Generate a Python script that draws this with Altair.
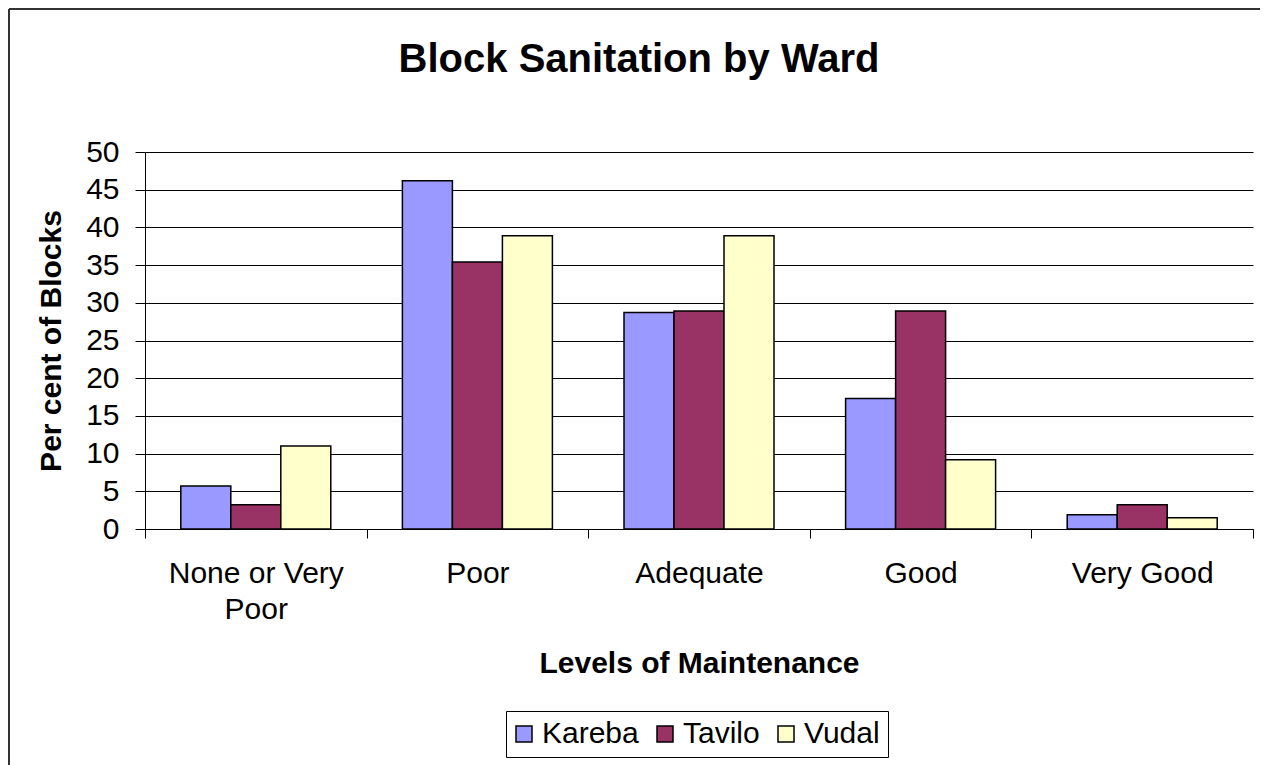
import altair as alt
import pandas as pd

categories = ["None or Very Poor", "Poor", "Adequate", "Good", "Very Good"]
wards = ["Kareba", "Tavilo", "Vudal"]
kareba = [5.7, 46.2, 28.7, 17.3, 1.9]
tavilo = [3.2, 35.4, 28.9, 28.9, 3.2]
vudal = [11.0, 38.9, 38.9, 9.2, 1.5]
colors = ["#9999FF", "#993366", "#FFFFCC"]
y_ticks = [0, 5, 10, 15, 20, 25, 30, 35, 40, 45, 50]

rows = []
for ward, vals in zip(wards, [kareba, tavilo, vudal]):
    for cat, v in zip(categories, vals):
        rows.append({"category": cat, "ward": ward, "value": v})
df = pd.DataFrame(rows)

FONT = "Liberation Sans"

bars = alt.Chart(df).mark_bar(stroke="black", strokeWidth=1.5).encode(
    x=alt.X(
        "category:N",
        sort=categories,
        scale=alt.Scale(paddingInner=0, paddingOuter=0),
        axis=alt.Axis(
            title="Levels of Maintenance",
            labelAngle=0,
            labelFontSize=30,
            labelFont=FONT,
            labelColor="black",
            labelLimit=400,
            labelLineHeight=36,
            labelPadding=20,
            labelExpr="datum.label == 'None or Very Poor' ? ['None or Very', 'Poor'] : datum.label",
            tickBand="extent",
            tickSize=9,
            tickColor="black",
            domainColor="black",
            grid=False,
            titleFont=FONT,
            titleFontSize=30,
            titleFontWeight="bold",
            titleColor="black",
            titleBaseline="alphabetic",
            titleY=143,
        ),
    ),
    xOffset=alt.XOffset(
        "ward:N", sort=wards, scale=alt.Scale(paddingInner=0, paddingOuter=0.716)
    ),
    y=alt.Y(
        "value:Q",
        scale=alt.Scale(domain=[0, 50], nice=False),
        axis=alt.Axis(
            title="Per cent of Blocks",
            values=y_ticks,
            labelFontSize=30,
            labelFont=FONT,
            labelColor="black",
            labelPadding=16,
            tickSize=10,
            tickColor="black",
            domainColor="black",
            grid=True,
            gridColor="black",
            gridWidth=1,
            titleFont=FONT,
            titleFontSize=30,
            titleFontWeight="bold",
            titleColor="black",
            titleAngle=270,
            titleBaseline="middle",
            titleX=-94,
            titleY=188.5,
        ),
    ),
    color=alt.Color(
        "ward:N",
        sort=wards,
        scale=alt.Scale(domain=wards, range=colors),
        legend=alt.Legend(
            title=None,
            orient="none",
            legendX=361,
            legendY=559,
            direction="horizontal",
            labelFontSize=30,
            labelFont=FONT,
            labelColor="black",
            labelOffset=3,
            symbolOffset=-5,
            columnPadding=15,
            symbolType="square",
            symbolSize=256,
            symbolStrokeColor="black",
            symbolStrokeWidth=1.5,
            padding=8,
            strokeColor="black",
        ),
    ),
)

frame_df = pd.DataFrame({"k": [0]})
left_border = alt.Chart(frame_df).mark_rule(color="#333333", strokeWidth=2).encode(
    x=alt.value(-136), y=alt.value(-143), y2=alt.value(625)
)
top_border = alt.Chart(frame_df).mark_rule(color="#333333", strokeWidth=2).encode(
    x=alt.value(-136), x2=alt.value(1115), y=alt.value(-143)
)

chart = alt.layer(bars, left_border, top_border).properties(
    width=1108,
    height=377,
    autosize=alt.AutoSizeParams(type="none"),
    padding={"left": 137, "top": 144, "right": 7, "bottom": 236},
    title=alt.TitleParams(
        text="Block Sanitation by Ward",
        font=FONT,
        fontSize=40,
        fontWeight="bold",
        color="black",
        anchor="middle",
        dx=-60,
        offset=-72,
    ),
).configure_view(stroke="transparent")

chart.save("out.html", embed_options={"renderer": "svg", "actions": False})
